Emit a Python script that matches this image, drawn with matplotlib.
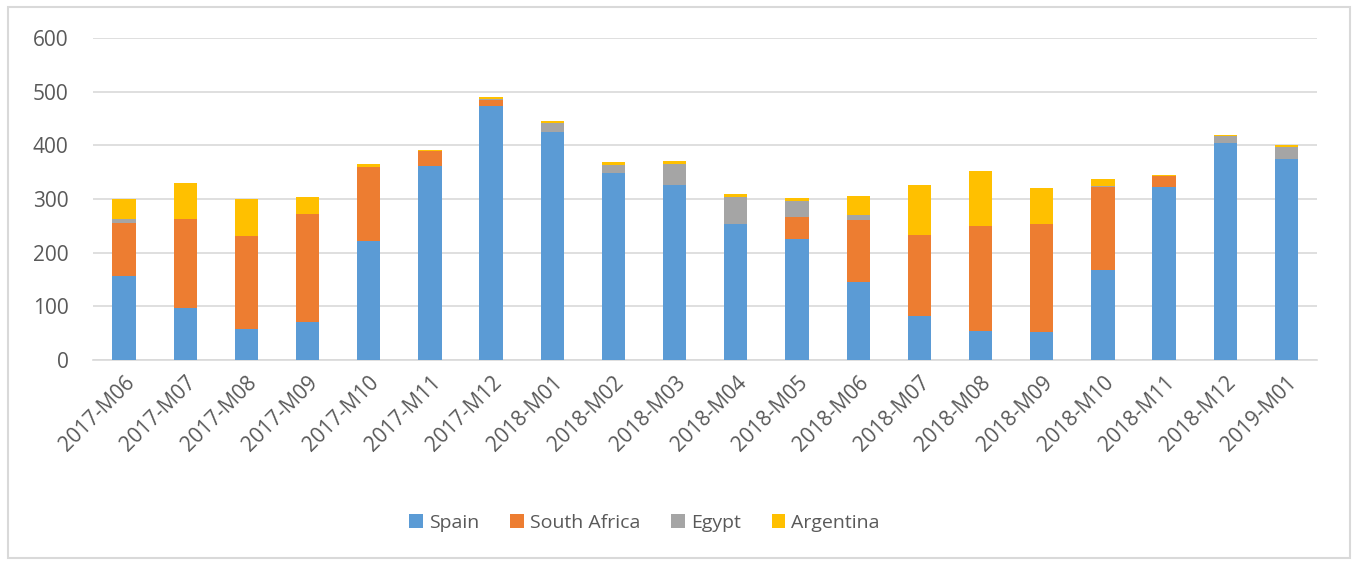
import numpy as np
import matplotlib.pyplot as plt
from matplotlib.patches import Rectangle

plt.rcParams['font.family'] = ['Open Sans', 'DejaVu Sans']

# Data
months = ['2017-M06', '2017-M07', '2017-M08', '2017-M09', '2017-M10', '2017-M11',
          '2017-M12', '2018-M01', '2018-M02', '2018-M03', '2018-M04', '2018-M05',
          '2018-M06', '2018-M07', '2018-M08', '2018-M09', '2018-M10', '2018-M11',
          '2018-M12', '2019-M01']
spain = [156, 96, 58, 70, 222, 362, 473, 424, 349, 327, 254, 225,
         145, 82, 54, 52, 167, 323, 405, 375]
south_africa = [100, 167, 173, 202, 138, 27, 12, 0, 0, 0, 0, 42,
                116, 150, 195, 202, 156, 20, 0, 0]
egypt = [6, 0, 0, 0, 0, 0, 2, 18, 15, 38, 50, 30,
         9, 0, 0, 0, 2, 0, 12, 22]
argentina = [38, 67, 69, 32, 5, 2, 4, 3, 5, 5, 5, 5,
             35, 94, 104, 67, 12, 2, 2, 3]

series = [('Spain', spain, '#5B9BD5'),
          ('South Africa', south_africa, '#ED7D31'),
          ('Egypt', egypt, '#A5A5A5'),
          ('Argentina', argentina, '#FFC000')]

fig = plt.figure(figsize=(13.54, 5.64), dpi=100)
ax = fig.add_axes([0.069, 0.3617, 0.9037, 0.5709])

x = np.arange(len(months))
bottom = np.zeros(len(months))
for name, vals, col in series:
    vals = np.array(vals, dtype=float)
    ax.bar(x, vals, width=0.38, bottom=bottom, color=col, label=name, zorder=3)
    bottom += vals

ax.set_xlim(-0.5, len(months) - 0.5)
ax.set_ylim(0, 600)
ax.set_yticks(range(0, 601, 100))
ax.yaxis.grid(True, color='#D9D9D9', linewidth=1.2, zorder=0)
ax.set_xticks(x)
ax.set_xticklabels(months, rotation=45, ha='right', rotation_mode='anchor')
ax.tick_params(axis='both', length=0, labelsize=15, colors='#595959')
ax.tick_params(axis='y', pad=18)
ax.tick_params(axis='x', pad=9)
for s in ['top', 'right', 'left']:
    ax.spines[s].set_visible(False)
ax.spines['bottom'].set_color('#D9D9D9')
ax.spines['bottom'].set_linewidth(1.2)

leg = fig.legend(loc='center', bbox_to_anchor=(0.476, 0.073), ncol=4, frameon=False,
                 fontsize=14, handlelength=0.7, handleheight=0.7, handletextpad=0.3,
                 columnspacing=1.6)
for t in leg.get_texts():
    t.set_color('#595959')

# outer chart border
fig.patches.append(Rectangle((8 / 1354, 6 / 564), 1342 / 1354, 551 / 564,
                             transform=fig.transFigure, fill=False,
                             edgecolor='#D9D9D9', linewidth=1.5))

fig.savefig('out.png', dpi=100)
